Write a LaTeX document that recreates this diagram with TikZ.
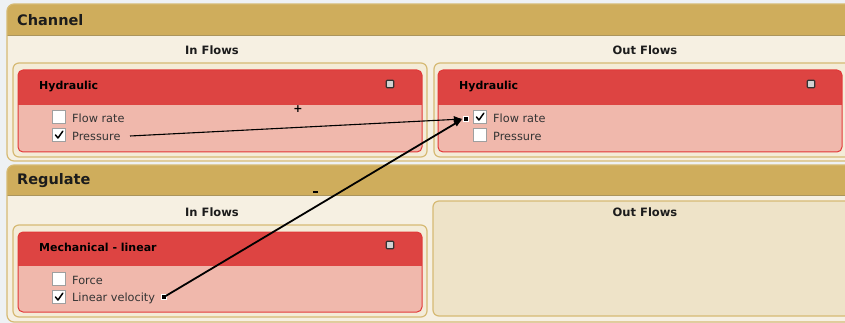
\documentclass[tikz,border=0pt]{standalone}
\usepackage{fontspec}
\setmainfont{DejaVu Sans}
\usetikzlibrary{arrows.meta}
\definecolor{pagebg}{HTML}{EEF1F4}
\definecolor{goldhead}{HTML}{CFAD5C}
\definecolor{goldline}{HTML}{D6BA74}
\definecolor{creambody}{HTML}{F6F0E2}
\definecolor{creambox}{HTML}{F4ECD8}
\definecolor{emptybox}{HTML}{EEE3C8}
\definecolor{redhead}{HTML}{DD4442}
\definecolor{redbody}{HTML}{F0B8AC}
\definecolor{redline}{HTML}{E23838}
\definecolor{inktext}{HTML}{1C1C1C}
\definecolor{itemtext}{HTML}{333333}
\begin{document}
\begin{tikzpicture}[x=1pt,y=-1pt,
  sectitle/.style={anchor=west,inner sep=0pt,font=\fontsize{14.5}{16}\selectfont\bfseries,text=inktext},
  coltitle/.style={inner sep=0pt,font=\fontsize{11.5}{13}\selectfont\bfseries,text=inktext},
  flowtitle/.style={anchor=west,inner sep=0pt,font=\fontsize{11}{13}\selectfont\bfseries,text=black},
  itemlabel/.style={anchor=west,inner sep=0pt,font=\fontsize{11.3}{13}\selectfont,text=itemtext},
  chkbox/.style={draw=gray!75,fill=white,line width=1pt,minimum size=13pt,inner sep=0pt},
  tick/.style={line width=1.5pt,black,line cap=round,line join=round},
  container/.style={draw=goldline,fill=creambox,line width=1.2pt,rounded corners=6pt},
  flowframe/.style={draw=redline,line width=1pt,rounded corners=5pt},
  icon/.style={draw=black!80,fill=gray!35,line width=1.1pt,minimum size=7.5pt,inner sep=0pt,rounded corners=1pt},
  port/.style={fill=black,draw=white,line width=0.8pt,minimum size=5.5pt,inner sep=0pt},
  link/.style={black,line width=1.2pt,-{Latex[length=9pt,width=7pt]}}]
\useasboundingbox (0,0) rectangle (845,323);
\clip (0,0) rectangle (845,323);
\fill[pagebg] (0,0) rectangle (845,323);

% ---------- section frames ----------
\foreach \top/\mid/\bot in {4/35/161, 165/195/322}{
  \begin{scope}
    \clip[rounded corners=7pt] (7,\top) rectangle (890,\bot);
    \fill[creambody] (7,\top) rectangle (890,\bot);
    \fill[goldhead] (7,\top) rectangle (890,\mid);
    \draw[goldline!80!black,line width=0.6pt] (7,\mid) -- (890,\mid);
  \end{scope}
  \draw[goldline,line width=1.2pt,rounded corners=7pt] (7,\top) rectangle (890,\bot);
}

\node[sectitle] (channel) at (17,20) {Channel};
\node[sectitle] (regulate) at (17,181) {Regulate};

% ---------- Channel ----------
\node[coltitle] (chin) at (212,50) {In Flows};
\node[coltitle] (chout) at (645,50) {Out Flows};

\draw[container] (13,63) rectangle (427,157);
\draw[container] (434,63) rectangle (880,157);

% left hydraulic flow box
\begin{scope}
  \clip[rounded corners=5pt] (18,70) rectangle (422,152);
  \fill[redbody] (18,70) rectangle (422,152);
  \fill[redhead] (18,70) rectangle (422,105);
\end{scope}
\draw[flowframe] (18,70) rectangle (422,152);
\node[flowtitle] (hydin) at (39,87) {Hydraulic};
\node[icon] (iconA) at (390,84) {};

\node[chkbox] (cbA1) at (59,117) {};
\node[itemlabel] (flowA) at (72,118) {Flow rate};
\node[chkbox] (cbA2) at (59,135) {};
\node[itemlabel] (pressA) at (72,136) {Pressure};
\draw[tick] ([shift={(-3.5,0)}]cbA2.center) -- ([shift={(-1,3)}]cbA2.center) -- ([shift={(3.8,-3.8)}]cbA2.center);

% right hydraulic flow box
\begin{scope}
  \clip[rounded corners=5pt] (438,70) rectangle (842,152);
  \fill[redbody] (438,70) rectangle (842,152);
  \fill[redhead] (438,70) rectangle (842,105);
\end{scope}
\draw[flowframe] (438,70) rectangle (842,152);
\node[flowtitle] (hydout) at (459,87) {Hydraulic};
\node[icon] (iconB) at (811,84) {};

\node[chkbox] (cbB1) at (480,117) {};
\node[itemlabel] (flowB) at (493,118) {Flow rate};
\draw[tick] ([shift={(-3.5,0)}]cbB1.center) -- ([shift={(-1,3)}]cbB1.center) -- ([shift={(3.8,-3.8)}]cbB1.center);
\node[chkbox] (cbB2) at (480,135) {};
\node[itemlabel] (pressB) at (493,136) {Pressure};

% ---------- Regulate ----------
\node[coltitle] (rgin) at (212,212) {In Flows};

\draw[container] (13,225) rectangle (427,317);
\draw[container,fill=emptybox] (433,201) rectangle (880,316);
\node[coltitle] (rgout) at (645,212) {Out Flows};

\begin{scope}
  \clip[rounded corners=5pt] (18,232) rectangle (422,312);
  \fill[redbody] (18,232) rectangle (422,312);
  \fill[redhead] (18,232) rectangle (422,266);
\end{scope}
\draw[flowframe] (18,232) rectangle (422,312);
\node[flowtitle] (mech) at (39,247) {Mechanical - linear};
\node[icon] (iconC) at (390,245) {};

\node[chkbox] (cbC1) at (59,279) {};
\node[itemlabel] (force) at (72,280) {Force};
\node[chkbox] (cbC2) at (59,297) {};
\node[itemlabel] (linvel) at (72,298) {Linear velocity};
\draw[tick] ([shift={(-3.5,0)}]cbC2.center) -- ([shift={(-1,3)}]cbC2.center) -- ([shift={(3.8,-3.8)}]cbC2.center);

% ---------- connectors ----------
\node[port] (portin) at (466,119) {};
\node[port] (portvel) at (164,297) {};
\coordinate (pressend) at (130,136);

\draw[link,line width=1.1pt] (pressend) -- (portin.west);
\draw[link,line width=1.8pt] (portvel.center) -- (portin.west);

% sign marks
\node[inner sep=0pt,font=\fontsize{11}{12}\selectfont\bfseries] (plus) at (298,109) {+};
\fill (312.5,191) rectangle (318,193.3);
\coordinate (minus) at (315,192);
\end{tikzpicture}
\end{document}
